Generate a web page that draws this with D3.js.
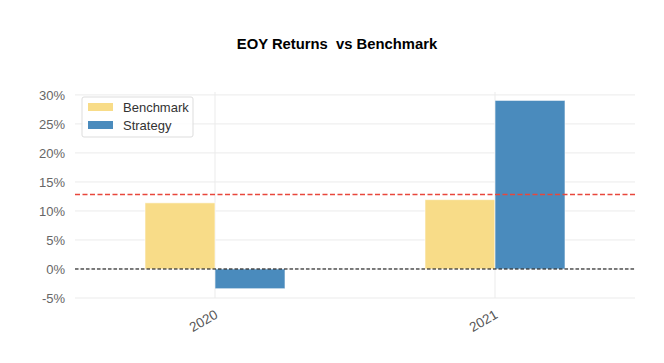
<!DOCTYPE html>
<html>
<head>
<meta charset="utf-8">
<script src="https://cdn.jsdelivr.net/npm/d3@7"></script>
<style>
  body { margin: 0; background: #fff; }
  svg { font-family: "Liberation Sans", Arial, sans-serif; }
</style>
</head>
<body>
<svg id="chart" width="664" height="363"></svg>
<script>
// EOY returns vs benchmark — grouped bars

const years = ["2020", "2021"];
const benchmark = [11.4, 11.95];
const strategy = [-3.4, 29.05];
const yTicks = [-5, 0, 5, 10, 15, 20, 25, 30];
const seriesNames = ["Benchmark", "Strategy"];
const colors = { Benchmark: "#f8dc88", Strategy: "#4a8bbd" };

const svg = d3.select("#chart");
const margin = { left: 75, right: 29, top: 92, bottom: 65 };
const W = 664, H = 363;

const x = d3.scaleLinear().domain([-0.5, 1.5]).range([margin.left, W - margin.right]);
const y = d3.scaleLinear().domain([-5, 30.5]).range([H - margin.bottom, margin.top]);

// grid
const grid = svg.append("g");
grid.selectAll("line.h")
    .data(yTicks)
    .enter().append("line")
    .attr("x1", x(-0.5)).attr("x2", x(1.5))
    .attr("y1", d => y(d)).attr("y2", d => y(d))
    .attr("stroke", "#ebebeb").attr("stroke-width", 1);
grid.selectAll("line.v")
    .data(years)
    .enter().append("line")
    .attr("x1", (d, i) => x(i)).attr("x2", (d, i) => x(i))
    .attr("y1", y(-5)).attr("y2", y(30.5))
    .attr("stroke", "#ebebeb").attr("stroke-width", 1);

// y axis labels
const yAxis = d3.axisLeft(y).tickValues(yTicks).tickFormat(d => d + "%").tickSize(0).tickPadding(10);
svg.append("g")
    .attr("transform", `translate(${margin.left},0)`)
    .call(yAxis)
    .call(g => g.select(".domain").remove())
    .call(g => g.selectAll("text").attr("fill", "#666").attr("font-size", 13));

// x axis labels
svg.append("g").selectAll("text")
    .data(years)
    .enter().append("text")
    .attr("transform", (d, i) => `translate(${x(i) - 1},${y(-5) + 11}) rotate(-30)`)
    .attr("text-anchor", "end")
    .attr("dy", "0.7em")
    .attr("fill", "#555")
    .attr("font-size", 13.5)
    .text(d => d);

// bars
const bw = 0.25;
const data = [];
years.forEach((yr, i) => {
    data.push({ s: "Benchmark", i, v: benchmark[i], off: -bw });
    data.push({ s: "Strategy", i, v: strategy[i], off: 0 });
});
svg.append("g").selectAll("rect")
    .data(data)
    .enter().append("rect")
    .attr("x", d => x(d.i + d.off))
    .attr("width", x(bw) - x(0))
    .attr("y", d => y(Math.max(0, d.v)))
    .attr("height", d => Math.abs(y(d.v) - y(0)))
    .attr("fill", d => colors[d.s])
    .attr("stroke", "#fff")
    .attr("stroke-opacity", 0.6)
    .attr("stroke-width", 1);

// average line
const avg = d3.mean(strategy);
svg.append("line")
    .attr("x1", x(-0.5)).attr("x2", x(1.5))
    .attr("y1", y(avg)).attr("y2", y(avg))
    .attr("stroke", "#e8473c").attr("stroke-width", 1.5)
    .attr("stroke-dasharray", "5,2.5");

// zero line
svg.append("line")
    .attr("x1", x(-0.5)).attr("x2", x(1.5))
    .attr("y1", y(0)).attr("y2", y(0))
    .attr("stroke", "#000").attr("stroke-width", 1)
    .attr("stroke-dasharray", "3.5,2");

// legend
const lg = svg.append("g").attr("transform", "translate(82,97)");
lg.append("rect")
    .attr("width", 111).attr("height", 40).attr("rx", 2)
    .attr("fill", "#fff").attr("fill-opacity", 0.8)
    .attr("stroke", "#ddd");
seriesNames.forEach((s, i) => {
    lg.append("rect")
        .attr("x", 6).attr("y", 6 + i * 18)
        .attr("width", 25).attr("height", 8)
        .attr("fill", colors[s]);
    lg.append("text")
        .attr("x", 41).attr("y", 14.5 + i * 18)
        .attr("font-size", 13)
        .attr("fill", "#333")
        .text(s);
});

// title
svg.append("text")
    .attr("x", 337).attr("y", 49)
    .attr("text-anchor", "middle")
    .attr("font-size", 14.8)
    .attr("font-weight", "bold")
    .attr("fill", "#000")
    .attr("xml:space", "preserve")
    .style("white-space", "pre")
    .text("EOY Returns  vs Benchmark");
</script>
</body>
</html>
